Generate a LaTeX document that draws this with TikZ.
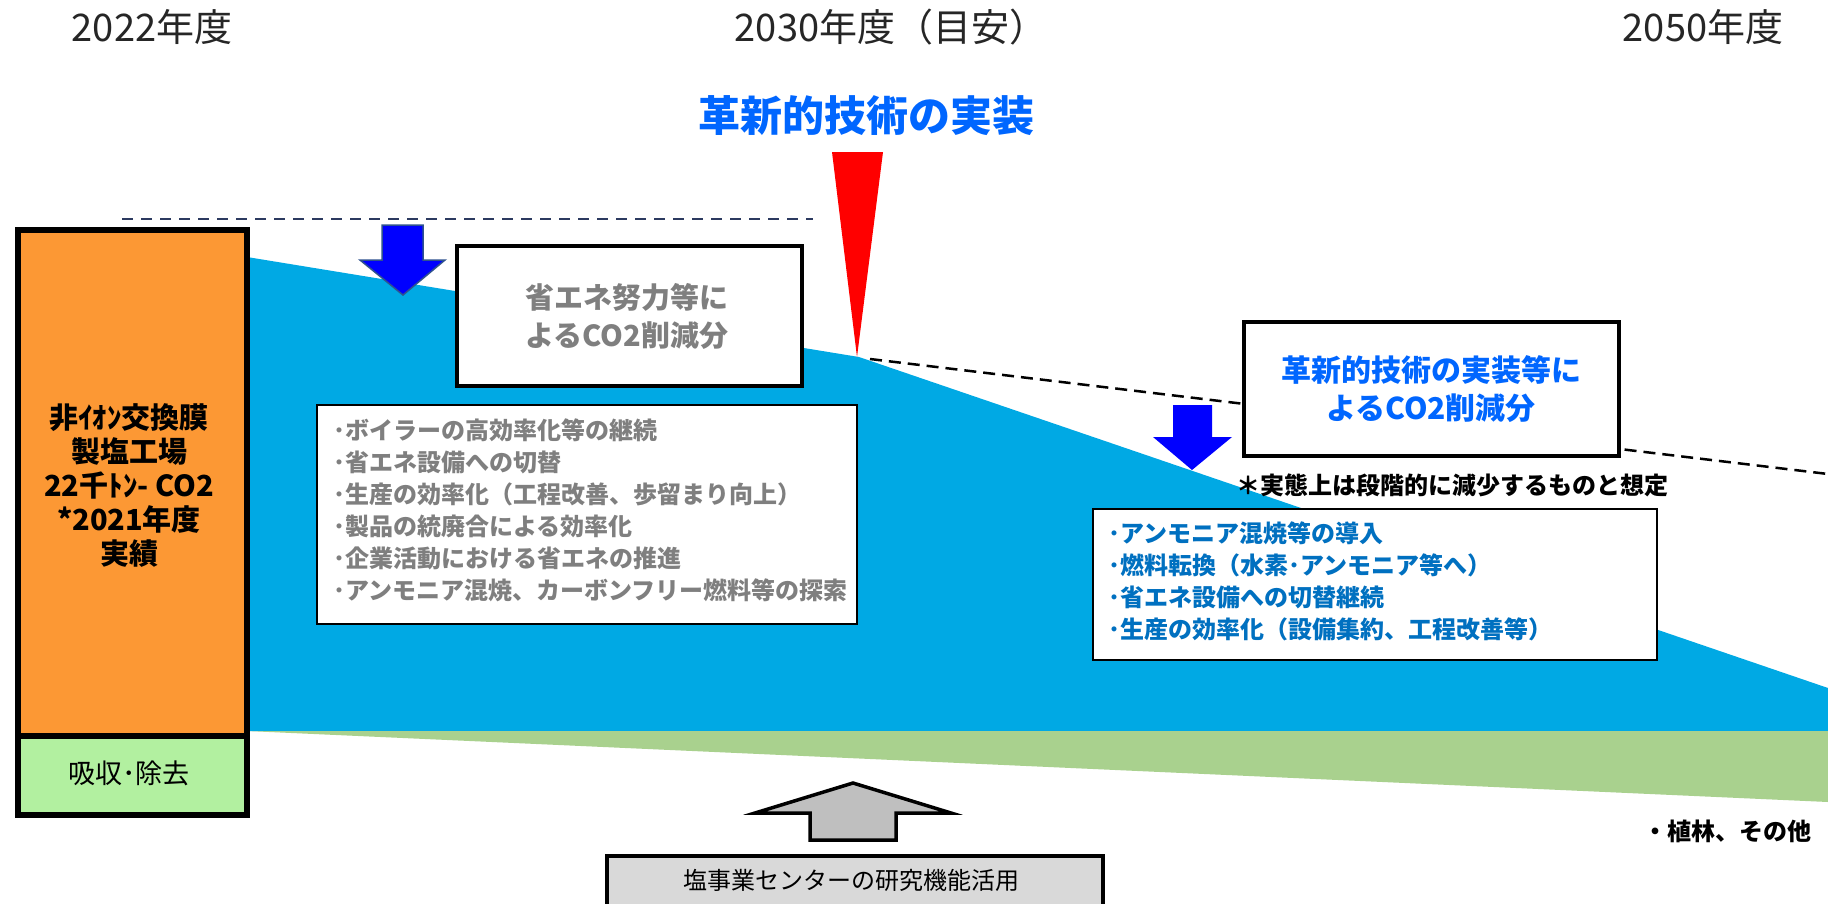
\documentclass[tikz,border=0pt]{standalone}
\usepackage{fontspec}
\setmainfont{Noto Sans CJK JP}
\definecolor{areablue}{RGB}{0,169,228}
\definecolor{plantorange}{RGB}{252,152,52}
\definecolor{boxgreen}{RGB}{178,240,160}
\definecolor{wedgegreen}{RGB}{169,209,142}
\definecolor{navydash}{RGB}{44,58,96}
\definecolor{titleblue}{RGB}{0,102,255}
\definecolor{listblue}{RGB}{0,112,192}
\definecolor{textgray}{RGB}{127,127,127}
\definecolor{yeargray}{RGB}{38,38,38}
\definecolor{arrowgray}{RGB}{191,191,191}
\definecolor{boxgray}{RGB}{217,217,217}
\definecolor{arrowedge}{RGB}{47,82,143}
\begin{document}
\begin{tikzpicture}[x=1pt,y=-1pt,
  framebox/.style={draw=black, line width=4pt, fill=white, inner sep=0pt, anchor=north west},
  listbox/.style={draw=black, line width=2pt, fill=white, inner sep=0pt, anchor=north west},
  yearlabel/.style={inner sep=0pt, text=yeargray, font=\fontsize{38}{42}\selectfont},
  biglabel/.style={inner sep=0pt, align=center, font=\bfseries\fontsize{30}{38}\selectfont},
  listtext/.style={inner sep=0pt, align=left, anchor=west, font=\bfseries\fontsize{24}{32}\selectfont},
  notelabel/.style={inner sep=0pt, text=black, font=\bfseries\fontsize{24}{28}\selectfont},
  downarrow/.style={fill={rgb,255:red,0;green,0;blue,255}},
  dashnavy/.style={draw=navydash, line width=2pt, dash pattern=on 11pt off 8pt},
  dashblack/.style={draw=black, line width=2.5pt, dash pattern=on 12pt off 7pt}
]
\useasboundingbox (0,0) rectangle (1828,903);
\clip (0,0) rectangle (1828,903);
\fill[white] (0,0) rectangle (1828,903);

% emission areas
\fill[areablue] (247,257) -- (859,357) -- (1828,688) -- (1828,731) -- (247,731) -- cycle;
\fill[wedgegreen] (247,731) -- (1828,731) -- (1828,802) -- cycle;

% reference lines
\coordinate (navyA) at (122,219);
\coordinate (navyB) at (813,219);
\draw[dashnavy] (navyA) -- (navyB);
\coordinate (dashA) at (870,359);
\coordinate (dashB) at (1828,474);
\draw[dashblack] (dashA) -- (dashB);

% red triangle
\fill[red] (832,152) -- (883,152) -- (857,357) -- cycle;

% year labels and title
\node[yearlabel] (y2022) at (152,27) {2022年度};
\node[yearlabel] (y2030) at (891,27) {2030年度（目安）};
\node[yearlabel] (y2050) at (1703,27) {2050年度};
\node[inner sep=0pt, text=titleblue, font=\bfseries\fontsize{42}{46}\selectfont] (title) at (866,116) {革新的技術の実装};

% left plant box
\node[draw=black, line width=6pt, fill=plantorange, inner sep=0pt, anchor=north west,
      minimum width=229pt, minimum height=506pt] (plant) at (15,227) {};
\node[inner sep=0pt, align=center, font=\bfseries\fontsize{29}{34}\selectfont] (plantlabel) at (129,485)
  {非ｲｵﾝ交換膜\\製塩工場\\22千ﾄﾝ- CO2\\*2021年度\\実績};
\node[draw=black, line width=6pt, fill=boxgreen, inner sep=0pt, anchor=north west,
      minimum width=229pt, minimum height=79pt] (absorb) at (15,733) {};
\node[inner sep=0pt, font=\fontsize{27}{30}\selectfont] (absorblabel) at (129,773) {吸収･除去};

% left down arrow
\filldraw[downarrow, draw=arrowedge, line width=1.5pt, line join=miter]
  (382,225) -- (423,225) -- (423,260) -- (445,260) -- (403,295) -- (360,260) -- (382,260) -- cycle;

% energy saving box
\node[framebox, minimum width=345pt, minimum height=140pt] (savebox) at (455,244) {};
\node[biglabel, text=textgray, font=\bfseries\fontsize{29}{38}\selectfont] (savelabel) at (627,316)
  {省エネ努力等に\\よるCO2削減分};

% energy saving list
\node[listbox, minimum width=540pt, minimum height=219pt] (savelist) at (316,404) {};
\node[listtext, text=textgray] (savelisttext) at (333,510)
  {･ボイラーの高効率化等の継続\\
   ･省エネ設備への切替\\
   ･生産の効率化（工程改善、歩留まり向上）\\
   ･製品の統廃合による効率化\\
   ･企業活動における省エネの推進\\
   ･アンモニア混焼、カーボンフリー燃料等の探索};

% innovation box
\node[framebox, minimum width=375pt, minimum height=134pt] (innobox) at (1242,320) {};
\node[biglabel, text=titleblue] (innolabel) at (1431,389)
  {革新的技術の実装等に\\よるCO2削減分};

% right down arrow
\fill[downarrow]
  (1173,405) -- (1212,405) -- (1212,437) -- (1232,437) -- (1192,470) -- (1153,437) -- (1173,437) -- cycle;

\node[notelabel] (note) at (1452,485) {＊実態上は段階的に減少するものと想定};

% innovation list
\node[listbox, minimum width=564pt, minimum height=151pt] (innolist) at (1092,508) {};
\node[listtext, text=listblue] (innolisttext) at (1108,581)
  {･アンモニア混焼等の導入\\
   ･燃料転換（水素･アンモニア等へ）\\
   ･省エネ設備への切替継続\\
   ･生産の効率化（設備集約、工程改善等）};

% planting label
\node[notelabel, anchor=east] (plant2) at (1812,831) {・植林、その他};

% up arrow and research box
\filldraw[fill=arrowgray, draw=black, line width=3.5pt, line join=miter]
  (853,783) -- (951,813) -- (896,813) -- (896,840) -- (810,840) -- (810,813) -- (755,813) -- cycle;
\node[draw=black, line width=3.5pt, fill=boxgray, inner sep=0pt, anchor=north west,
      minimum width=496pt, minimum height=80pt] (research) at (605,854) {};
\node[inner sep=0pt, font=\fontsize{24}{28}\selectfont] (researchlabel) at (851,880) {塩事業センターの研究機能活用};
\end{tikzpicture}
\end{document}
